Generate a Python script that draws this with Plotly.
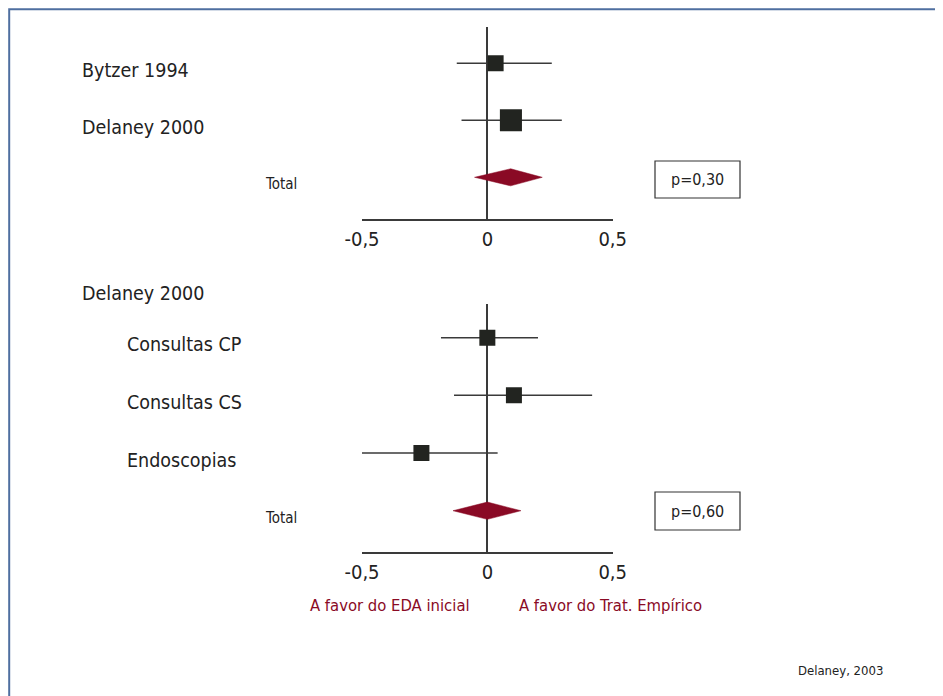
import plotly.graph_objects as go
import math

# ---------------- data ----------------
top_labels = ["Bytzer 1994", "Delaney 2000"]
top_est = [0.033, 0.094]
top_lo = [-0.122, -0.103]
top_hi = [0.257, 0.297]
top_weight = [1.0, 1.9]
top_total = [-0.051, 0.093, 0.219]   # lo, est, hi
top_p = "p=0,30"

bot_header = "Delaney 2000"
bot_labels = ["Consultas CP", "Consultas CS", "Endoscopias"]
bot_est = [0.0, 0.106, -0.263]
bot_lo = [-0.185, -0.133, -0.506]
bot_hi = [0.202, 0.418, 0.041]
bot_weight = [1.0, 1.0, 1.0]
bot_total = [-0.137, 0.0, 0.134]
bot_p = "p=0,60"

tick_vals = [-0.5, 0, 0.5]
tick_text = ["-0,5", "0", "0,5"]
left_note = "A favor do EDA inicial"
right_note = "A favor do Trat. Empírico"
source = "Delaney, 2003"

# ---------------- style ----------------
W, H = 943, 696
OFF = 8  # page body margin
FONT = "DejaVu Sans Condensed, Liberation Sans Narrow, sans-serif"
SQ = "#222420"
LN = "#3a3a3a"
RED = "#8a0a25"
TXT = "#222222"
FRAME = "#4f6fa0"

def pxx(x):
    return (x - OFF) / W

def pxy(y):
    return 1 - (y - OFF) / H

fig = go.Figure()

def add_forest(xa, ya, labels, est, lo, hi, weight, total):
    rows = list(range(1, len(labels) + 1))
    fig.add_trace(go.Scatter(
        x=est, y=rows, mode="markers", xaxis=xa, yaxis=ya,
        marker=dict(symbol="square", color=SQ, opacity=1,
                    size=[16 * math.sqrt(w) for w in weight], line=dict(width=0)),
        error_x=dict(type="data", symmetric=False,
                     array=[h - e for h, e in zip(hi, est)],
                     arrayminus=[e - l for e, l in zip(est, lo)],
                     color=LN, thickness=1.5, width=0),
        showlegend=False, hoverinfo="skip"))
    ty = len(labels) + 1
    h = 0.15
    fig.add_trace(go.Scatter(
        x=[total[0], total[1], total[2], total[1], total[0]],
        y=[ty, ty - h, ty, ty + h, ty],
        mode="lines", fill="toself", fillcolor=RED, line=dict(color=RED, width=0.5),
        xaxis=xa, yaxis=ya, showlegend=False, hoverinfo="skip"))

add_forest("x", "y", top_labels, top_est, top_lo, top_hi, top_weight, top_total)
add_forest("x2", "y2", bot_labels, bot_est, bot_lo, bot_hi, bot_weight, bot_total)

xdom = [pxx(362), pxx(612.7)]
axis_common = dict(range=[-0.5, 0.5], domain=xdom, showgrid=False, zeroline=True,
                   zerolinecolor=LN, zerolinewidth=1.5, showline=True, linecolor=LN,
                   linewidth=1.5, tickvals=tick_vals, ticktext=tick_text,
                   ticks="outside", ticklen=1, tickcolor="rgba(0,0,0,0)",
                   tickfont=dict(family=FONT, size=20, color=TXT), fixedrange=True,
                   automargin=False)

def yrange(top_px, bot_px, row1_px, step):
    return [1 + (bot_px - row1_px) / step, 1 - (row1_px - top_px) / step]

fig.update_layout(
    width=W, height=H, margin=dict(l=0, r=0, t=0, b=0, pad=0, autoexpand=False),
    paper_bgcolor="white", plot_bgcolor="white",
    xaxis=dict(axis_common, anchor="y"),
    xaxis2=dict(axis_common, anchor="y2"),
    yaxis=dict(domain=[pxy(219), pxy(27)], range=yrange(27, 219, 63.3, 57),
               visible=False, fixedrange=True, anchor="x", automargin=False),
    yaxis2=dict(domain=[pxy(552.3), pxy(304)], range=yrange(304, 552.3, 337.7, 57.67),
                visible=False, fixedrange=True, anchor="x2", automargin=False),
)

ann = []
def label(text, x, yref, yval, size, color=TXT):
    ann.append(dict(text=text, x=pxx(x), xref="paper", y=yval, yref=yref, yshift=-7,
                    xanchor="left", yanchor="middle", showarrow=False,
                    font=dict(family=FONT, size=size, color=color)))

for i, t in enumerate(top_labels):
    label(t, 80, "y", i + 1, 19.5)
label("Total", 263, "y", len(top_labels) + 1, 15)
for i, t in enumerate(bot_labels):
    label(t, 125, "y2", i + 1, 19.5)
label("Total", 263, "y2", len(bot_labels) + 1, 15)

def ptext(text, x, y, size, color=TXT, anchor="left"):
    ann.append(dict(text=text, x=pxx(x), y=pxy(y), xref="paper", yref="paper", xanchor=anchor,
                    yanchor="middle", showarrow=False,
                    font=dict(family=FONT, size=size, color=color)))

ptext(bot_header, 80, 293, 19.5)
ptext(left_note, 390, 605, 16.5, RED, anchor="center")
ptext(right_note, 517, 605, 16.5, RED, anchor="left")
ptext(source, 885, 670, 13, anchor="right")

shapes = []
def box(x0, y0, x1, y1, text):
    shapes.append(dict(type="rect", xref="paper", yref="paper", x0=pxx(x0), x1=pxx(x1),
                       y0=pxy(y1), y1=pxy(y0),
                       line=dict(color="#333333", width=1.2), fillcolor="white", layer="below"))
    ptext(text, (x0 + x1) / 2, (y0 + y1) / 2, 16, anchor="center")

box(655, 161, 740, 198, top_p)
box(655, 492, 740, 530, bot_p)

# outer frame (left and top edges visible)
shapes.append(dict(type="rect", xref="paper", yref="paper", x0=1.2 / W, y0=-0.01,
                   x1=1.01, y1=1 - 1.2 / H,
                   line=dict(color=FRAME, width=2), fillcolor="rgba(0,0,0,0)", layer="below"))
fig.update_layout(shapes=shapes, annotations=ann)

fig.write_html("out.html")
